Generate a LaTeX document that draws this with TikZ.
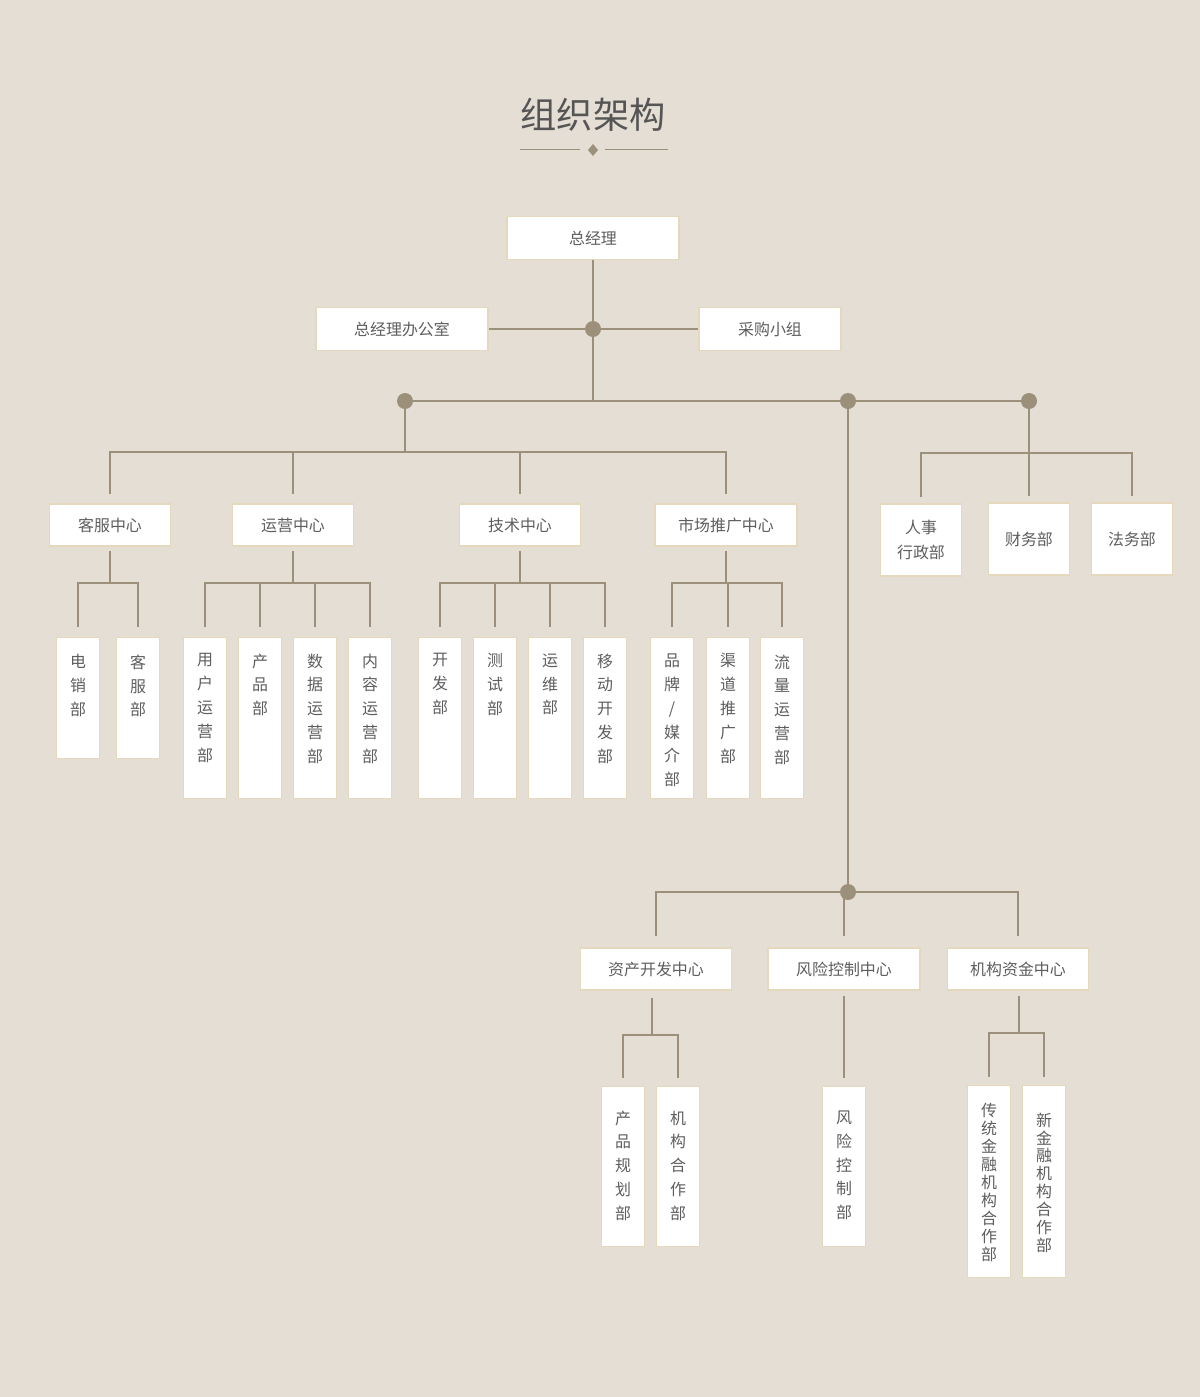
\documentclass[tikz,border=0pt]{standalone}
\usepackage{fontspec}
\setmainfont{Noto Sans CJK SC}

\definecolor{bg}{HTML}{E5DED4}
\definecolor{linec}{HTML}{9D907B}
\definecolor{boxline}{HTML}{E6D8BC}
\definecolor{txt}{HTML}{5E5E5E}

\newlength{\pxu}
\setlength{\pxu}{0.02cm}
% vertical column text: height, top gap, baselineskip (pt), text
\newcommand{\vtxt}[4]{\parbox[c][#1\pxu][t]{43\pxu}{\centering\fontsize{9.07pt}{#3pt}\selectfont\vspace*{#2\pxu}#4\par}}

\begin{document}
\begin{tikzpicture}[x=0.02cm, y=-0.02cm,
    box/.style={draw=boxline, fill=white, line width=0.7pt, inner sep=0pt, text=txt,
        font=\fontsize{9.07pt}{14.2pt}\selectfont, align=center},
    hbox/.style 2 args={box, minimum width=#1*0.02cm, minimum height=#2*0.02cm},
    vcol/.style={box, anchor=north},
    link/.style={draw=linec, line width=1.2pt},
    sub/.style={link, shorten >=0.2cm},
    dot/.style={circle, fill=linec, inner sep=0pt, minimum size=0.32cm}]

    \useasboundingbox[fill=bg] (0,0) rectangle (1200,1397);

    % title
    \node[text=txt!90!black, font=\fontsize{20.6pt}{24pt}\selectfont] (title) at (593,115) {组织架构};
    \draw[linec, line width=1pt] (520,149.5) -- (580,149.5) (605,149.5) -- (668,149.5);
    \fill[linec] (593,144) -- (598,150) -- (593,156) -- (588,150) -- cycle;

    % top level
    \node[hbox={172}{43}] (gm) at (593,238) {总经理};
    \node[hbox={172}{43}] (gmo) at (402,329) {总经理办公室};
    \node[hbox={142}{43}] (cg) at (770,329) {采购小组};
    \node[dot] (d0) at (593,329) {};
    \coordinate (j0) at (593,401);

    \draw[link] (gm) -- (d0);
    \draw[link] (gmo) -- (d0) -- (cg);
    \draw[link] (d0) -- (j0);

    \node[dot] (dl) at (405,401) {};
    \node[dot] (dm) at (848,401) {};
    \node[dot] (dr) at (1029,401) {};
    \draw[link] (dl) -- (dm) -- (dr);

    % centres
    \node[hbox={121}{42}] (kf) at (110,525) {客服中心};
    \node[hbox={121}{42}] (yy) at (293,525) {运营中心};
    \node[hbox={121}{42}] (js) at (520,525) {技术中心};
    \node[hbox={142}{42}] (sc) at (726,525) {市场推广中心};

    \coordinate (jl) at (405,452);
    \draw[link] (dl) -- (jl);
    \foreach \n in {kf,yy,js,sc}
        \draw[link, shorten >=0.18cm] (jl) -| (\n);

    % departments under the centres
    \node[vcol] (dx) at (78,637) {\vtxt{121}{17}{13.6}{电\\销\\部}};
    \node[vcol] (kfb) at (138,637) {\vtxt{121}{17}{13.6}{客\\服\\部}};

    \node[vcol] (yhy) at (205,637) {\vtxt{161}{16}{13.6}{用\\户\\运\\营\\部}};
    \node[vcol] (cp) at (260,637) {\vtxt{161}{16}{13.6}{产\\品\\部}};
    \node[vcol] (sjy) at (315,637) {\vtxt{161}{16}{13.6}{数\\据\\运\\营\\部}};
    \node[vcol] (nry) at (370,637) {\vtxt{161}{16}{13.6}{内\\容\\运\\营\\部}};

    \node[vcol] (kfa) at (440,637) {\vtxt{161}{16}{13.6}{开\\发\\部}};
    \node[vcol] (cs) at (495,637) {\vtxt{161}{16}{13.6}{测\\试\\部}};
    \node[vcol] (yw) at (550,637) {\vtxt{161}{16}{13.6}{运\\维\\部}};
    \node[vcol] (yd) at (605,637) {\vtxt{161}{16}{13.6}{移\\动\\开\\发\\部}};

    \node[vcol] (pp) at (672,637) {\vtxt{161}{16}{13.6}{品\\牌\\/\\媒\\介\\部}};
    \node[vcol] (qd) at (728,637) {\vtxt{161}{16}{13.6}{渠\\道\\推\\广\\部}};
    \node[vcol] (ll) at (782,637) {\vtxt{161}{17}{13.6}{流\\量\\运\\营\\部}};

    \coordinate (kfj) at (110,583);
    \coordinate (yyj) at (293,583);
    \coordinate (jsj) at (520,583);
    \coordinate (scj) at (726,583);
    \draw[link, shorten <=0.08cm] (kf) -- (kfj);
    \draw[link, shorten <=0.08cm] (yy) -- (yyj);
    \draw[link, shorten <=0.08cm] (js) -- (jsj);
    \draw[link, shorten <=0.08cm] (sc) -- (scj);
    \foreach \n in {dx,kfb}
        \draw[sub] (kfj) -| (\n);
    \foreach \n in {yhy,cp,sjy,nry}
        \draw[sub] (yyj) -| (\n);
    \foreach \n in {kfa,cs,yw,yd}
        \draw[sub] (jsj) -| (\n);
    \foreach \n in {pp,qd,ll}
        \draw[sub] (scj) -| (\n);

    % right group
    \node[hbox={81}{72}] (hr) at (921,540) {人事\\行政部};
    \node[hbox={81}{72}] (cw) at (1029,539) {财务部};
    \node[hbox={81}{72}] (fw) at (1132,539) {法务部};
    \coordinate (jr) at (1029,453);
    \draw[link] (dr) -- (jr);
    \foreach \n in {hr,cw,fw}
        \draw[link, shorten >=0.13cm] (jr) -| (\n);

    % lower group
    \node[dot] (dc) at (848,892) {};
    \draw[link] (dm) -- (dc);

    \node[hbox={151}{42}] (zc) at (656,969) {资产开发中心};
    \node[hbox={152}{42}] (fk) at (844,969) {风险控制中心};
    \node[hbox={141}{42}] (jg) at (1018,969) {机构资金中心};
    \foreach \n in {zc,fk,jg}
        \draw[link, shorten >=0.22cm] (dc) -| (\n);

    \node[vcol] (cpg) at (623,1086) {\vtxt{160}{24}{13.6}{产\\品\\规\\划\\部}};
    \node[vcol] (jgh) at (678,1086) {\vtxt{160}{24}{13.6}{机\\构\\合\\作\\部}};
    \node[vcol] (fkb) at (844,1086) {\vtxt{160}{24}{13.6}{风\\险\\控\\制\\部}};
    \node[vcol] (ct) at (989,1085) {\vtxt{192}{18}{10.2}{传\\统\\金\\融\\机\\构\\合\\作\\部}};
    \node[vcol] (xj) at (1044,1085) {\vtxt{192}{27}{10.2}{新\\金\\融\\机\\构\\合\\作\\部}};

    \coordinate (zcj) at (652,1035);
    \coordinate (jgj) at (1019,1033);
    \draw[link, shorten <=0.14cm] (zcj |- zc.south) -- (zcj);
    \draw[link, shorten <=0.1cm] (jgj |- jg.south) -- (jgj);
    \foreach \n in {cpg,jgh}
        \draw[link, shorten >=0.16cm] (zcj) -| (\n);
    \foreach \n in {ct,xj}
        \draw[link, shorten >=0.16cm] (jgj) -| (\n);
    \draw[link, shorten <=0.1cm, shorten >=0.16cm] (fk) -- (fkb);
\end{tikzpicture}
\end{document}
